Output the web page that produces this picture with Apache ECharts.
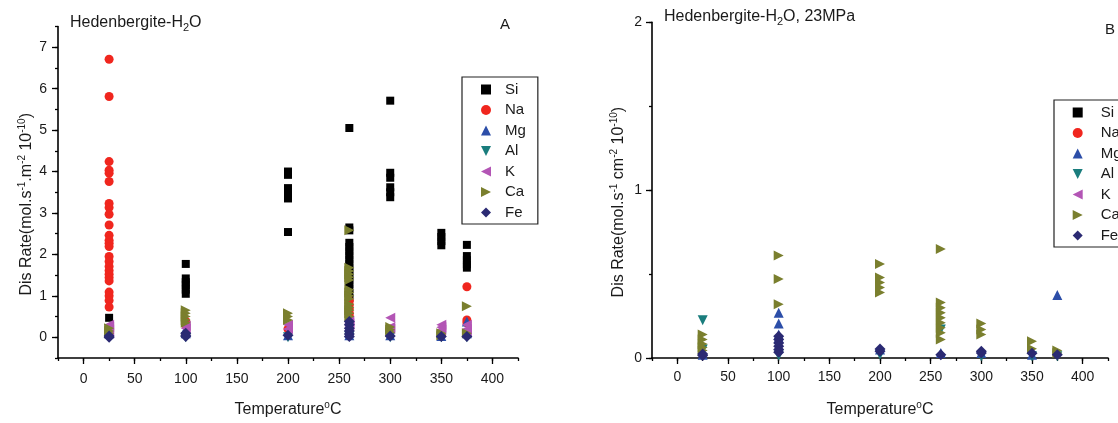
<!DOCTYPE html>
<html>
<head>
<meta charset="utf-8">
<script src="https://cdn.jsdelivr.net/npm/echarts@6/dist/echarts.min.js"></script>
<style>
html,body{margin:0;padding:0;background:#fff;}
#c{width:1118px;height:423px;}
</style>
</head>
<body>
<div id="c"></div>
<script>
// Temperatures (°C) at which samples were measured
const TEMPS = [25, 100, 200, 260, 300, 350, 375];
const ELEMENTS = ['Si', 'Na', 'Mg', 'Al', 'K', 'Ca', 'Fe'];
// Labelled (major) tick values
const X_MAJOR = [0, 50, 100, 150, 200, 250, 300, 350, 400];
const YA_MAJOR = [0, 1, 2, 3, 4, 5, 6, 7];
const YB_MAJOR = [0, 1, 2];

// Panel A: Hedenbergite-H2O, rates grouped per temperature (same order as TEMPS)
const A_Si = [[0.47],[1.77,1.42,1.33,1.25,1.15,1.05],[4.0,3.92,3.6,3.5,3.35,2.54],[5.05,2.65,2.58,2.28,2.18,2.08,1.98,1.88,1.78,1.68,1.58,1.48,1.38,1.28,1.18,1.05,0.95],[5.71,3.97,3.85,3.62,3.5,3.38],[2.52,2.42,2.32,2.22],[2.23,1.96,1.86,1.76,1.68]];
const A_Na = [[6.71,5.81,4.24,4.03,3.96,3.76,3.23,3.13,2.97,2.71,2.46,2.34,2.27,2.19,1.95,1.83,1.71,1.61,1.52,1.44,1.36,1.09,1.0,0.89,0.73],[0.38,0.3],[0.2],[0.88,0.78,0.68,0.58,0.5],[0.2],[0.08],[1.22,0.42,0.35]];
const A_Mg = [[0.22,0.1],[0.2,0.1],[0.05],[0.12,0.05],[0.05],[0.03],[0.38,0.1]];
const A_Al = [[0.2,0.05],[0.0],[0.0],[0.02],[0.0],[0.0],[0.0]];
const A_K  = [[0.3,0.25,0.18,0.1],[0.28,0.22],[0.3,0.2],[0.4,0.33,0.27],[0.47,0.25,0.2],[0.3,0.24,0.18],[0.3,0.2,0.12]];
const A_Ca = [[0.22,0.15,0.1],[0.65,0.58,0.5,0.42,0.35],[0.58,0.5,0.42],[2.58,1.68,1.6,1.52,1.45,1.38,1.15,1.08,1.0,0.93,0.8,0.72,0.65,0.58,0.5],[0.25,0.18,0.12],[0.1,0.05],[0.75,0.1]];
const A_Fe = [[0.0,0.03],[0.1,0.05,0.02],[0.05],[0.38,0.3,0.22,0.15,0.08,0.02],[0.03],[0.02],[0.02]];

// Panel B: Hedenbergite-H2O, 23MPa
const B_Si = [[],[],[],[],[],[],[]];
const B_Na = [[],[],[],[],[],[],[]];
const B_Mg = [[0.02],[0.27,0.205,0.14,0.12],[0.05],[0.03],[0.03],[0.02],[0.375]];
const B_Al = [[0.225,0.05],[0.015],[0.02],[0.17],[0.01],[0.01],[0.01]];
const B_K  = [[],[],[],[],[],[],[]];
const B_Ca = [[0.14,0.11,0.083,0.063,0.044],[0.61,0.47,0.32],[0.56,0.48,0.45,0.42,0.39],[0.65,0.33,0.30,0.27,0.24,0.21,0.18,0.15,0.11],[0.205,0.17,0.14],[0.1,0.055],[0.044,0.03]];
const B_Fe = [[0.024,0.015],[0.13,0.11,0.09,0.07,0.05,0.035],[0.053,0.04],[0.02],[0.04,0.03],[0.028],[0.02]];

const A_DATA = [A_Si, A_Na, A_Mg, A_Al, A_K, A_Ca, A_Fe];
const B_DATA = [B_Si, B_Na, B_Mg, B_Al, B_K, B_Ca, B_Fe];

const STYLE = {
  Si: {symbol: 'rect', rot: 0, size: 8, color: '#000000', icon: 'rect'},
  Na: {symbol: 'circle', rot: 0, size: 9, color: '#f0261e', icon: 'circle'},
  Mg: {symbol: 'triangle', rot: 0, size: 10, color: '#2c4ea8', icon: 'triangle'},
  Al: {symbol: 'triangle', rot: 180, size: 10, color: '#1a7d7d', icon: 'path://M0,0L10,0L5,10Z'},
  K:  {symbol: 'triangle', rot: 90, size: 10, color: '#b355b5', icon: 'path://M10,0L0,5L10,10Z'},
  Ca: {symbol: 'triangle', rot: -90, size: 10, color: '#7a7f2e', icon: 'path://M0,0L10,5L0,10Z'},
  Fe: {symbol: 'diamond', rot: 0, size: 11, color: '#2b2a73', icon: 'diamond'}
};

function pairs(groups) {
  const out = [];
  groups.forEach((vals, i) => vals.forEach(v => out.push([TEMPS[i], v])));
  return out;
}

const FONT = '"Liberation Sans", Arial, sans-serif';
const TXT = '#1a1a1a';
const rich = {
  sup: {fontSize: 10, padding: [0, 0, 10, 0], color: TXT, fontFamily: FONT},
  sub: {fontSize: 11, padding: [9, 0, 0, 0], color: TXT, fontFamily: FONT}
};

function xAxis(gi) {
  return {
    type: 'value', gridIndex: gi, min: -25, max: 425, interval: 25,
    name: 'Temperature{sup|o}C', nameLocation: 'middle', nameGap: 42,
    nameTextStyle: {fontSize: 16, color: TXT, fontFamily: FONT, rich: rich},
    axisLine: {show: true, onZero: false, lineStyle: {color: '#000', width: 1.6}},
    axisTick: {show: true, length: 3, lineStyle: {color: '#000', width: 1.3}},
    axisLabel: {fontSize: 14, color: TXT, fontFamily: FONT, margin: gi === 0 ? 14 : 12,
      formatter: v => (Math.round(v) % 50 === 0 ? String(Math.round(v)) : '')},
    splitLine: {show: false}
  };
}

function yAxis(gi) {
  const isA = gi === 0;
  return {
    type: 'value', gridIndex: gi,
    min: isA ? -0.5 : 0, max: isA ? 7.5 : 2, interval: 0.5,
    name: isA ? 'Dis Rate(mol.s{sup|-1}.m{sup|-2} 10{sup|-10})' : 'Dis Rate(mol.s{sup|-1} cm{sup|-2} 10{sup|-10})',
    nameLocation: 'middle', nameRotate: 90, nameGap: isA ? 21 : 23,
    nameTextStyle: {fontSize: 16, color: TXT, fontFamily: FONT, rich: rich, padding: [0, 24, 0, 0]},
    axisLine: {show: true, onZero: false, lineStyle: {color: '#000', width: 1.6}},
    axisTick: {show: true, length: 3, lineStyle: {color: '#000', width: 1.3}},
    axisLabel: {fontSize: 14, color: TXT, fontFamily: FONT, margin: isA ? 11 : 10,
      formatter: v => (Math.abs(v - Math.round(v)) < 1e-6 ? String(Math.round(v)) : '')},
    splitLine: {show: false}
  };
}

// overlay axes that only draw the longer major ticks
function majorX(gi) {
  return {
    type: 'value', gridIndex: gi, min: -25, max: 425, position: 'bottom',
    axisLine: {show: false, onZero: false},
    axisTick: {show: true, length: 6, customValues: X_MAJOR, lineStyle: {color: '#000', width: 1.3}},
    axisLabel: {show: false}, splitLine: {show: false}
  };
}
function majorY(gi) {
  const isA = gi === 0;
  return {
    type: 'value', gridIndex: gi, min: isA ? -0.5 : 0, max: isA ? 7.5 : 2, position: 'left',
    axisLine: {show: false, onZero: false},
    axisTick: {show: true, length: 6, customValues: isA ? YA_MAJOR : YB_MAJOR, lineStyle: {color: '#000', width: 1.3}},
    axisLabel: {show: false}, splitLine: {show: false}
  };
}

const series = [];
[A_DATA, B_DATA].forEach((panel, gi) => {
  panel.forEach((groups, k) => {
    const name = ELEMENTS[k];
    const st = STYLE[name];
    series.push({
      type: 'scatter', name: name, xAxisIndex: gi, yAxisIndex: gi,
      symbol: st.symbol, symbolRotate: st.rot, symbolSize: st.size,
      itemStyle: {color: st.color, opacity: 1},
      emphasis: {disabled: true},
      data: pairs(groups)
    });
  });
});

function legend(left, top, pad, textPad) {
  return {
    orient: 'vertical', left: left, top: top,
    data: ELEMENTS.map(n => ({name: n, icon: STYLE[n].icon, itemStyle: {color: STYLE[n].color}})),
    itemWidth: 10, itemHeight: 10, itemGap: 5.5,
    padding: pad,
    borderColor: '#222', borderWidth: 1.2, borderRadius: 0,
    selectedMode: false,
    textStyle: {fontSize: 15, color: TXT, fontFamily: FONT, padding: [0, 0, 0, textPad]}
  };
}

const option = {
  animation: false,
  backgroundColor: '#fff',
  textStyle: {fontFamily: FONT},
  title: [
    {text: 'Hedenbergite-H{sub|2}O', left: 65, top: 8,
      textStyle: {fontSize: 16, fontWeight: 'normal', color: TXT, fontFamily: FONT, rich: rich}},
    {text: 'A', left: 495, top: 12,
      textStyle: {fontSize: 15, fontWeight: 'normal', color: TXT, fontFamily: FONT}},
    {text: 'Hedenbergite-H{sub|2}O, 23MPa', left: 659, top: 2,
      textStyle: {fontSize: 16, fontWeight: 'normal', color: TXT, fontFamily: FONT, rich: rich}},
    {text: 'B', left: 1100, top: 17,
      textStyle: {fontSize: 15, fontWeight: 'normal', color: TXT, fontFamily: FONT}}
  ],
  legend: [
    legend(462, 77, [5, 12, 4, 19], 9),
    legend(1054, 100, [5, 12, 4, 18.7], 13)
  ],
  grid: [
    {left: 58, top: 26.5, width: 460, height: 339, containLabel: false},
    {left: 652, top: 22.3, width: 456, height: 338.4, containLabel: false}
  ],
  xAxis: [xAxis(0), xAxis(1), majorX(0), majorX(1)],
  yAxis: [yAxis(0), yAxis(1), majorY(0), majorY(1)],
  series: series
};

const chart = echarts.init(document.getElementById('c'), null, {renderer: 'canvas'});
chart.setOption(option);
</script>
</body>
</html>
